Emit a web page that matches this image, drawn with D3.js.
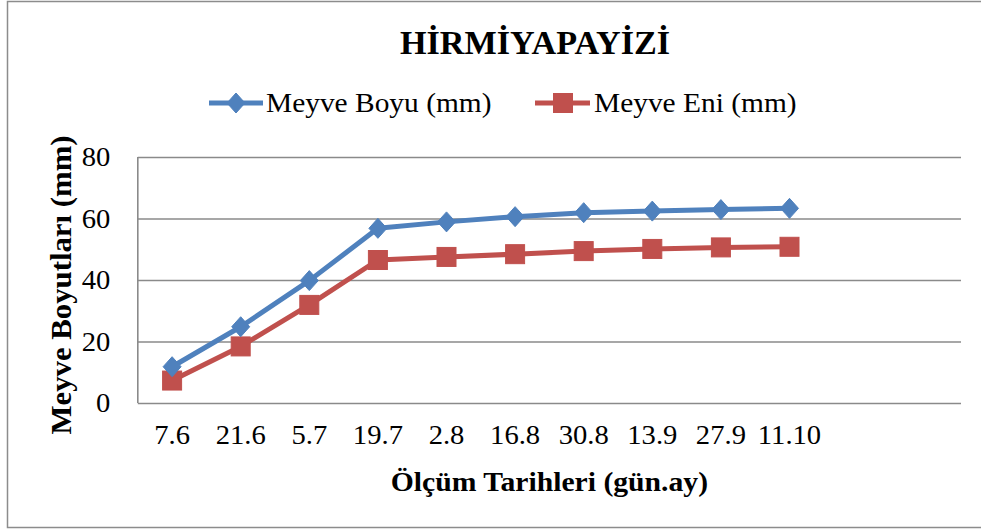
<!DOCTYPE html>
<html>
<head>
<meta charset="utf-8">
<script src="https://cdn.jsdelivr.net/npm/d3@7"></script>
<style>
  html, body { margin: 0; padding: 0; background: #fff; }
  svg { display: block; font-family: "Liberation Serif", "Times New Roman", serif; }
</style>
</head>
<body>
<svg id="chart" width="981" height="530"></svg>
<script>
// ---- data ----
const categories = ["7.6", "21.6", "5.7", "19.7", "2.8", "16.8", "30.8", "13.9", "27.9", "11.10"];
const boyuValues = [11.8, 24.8, 39.8, 56.8, 58.9, 60.6, 61.9, 62.4, 62.9, 63.3];
const eniValues  = [7.3, 18.4, 31.9, 46.5, 47.5, 48.4, 49.4, 50.1, 50.6, 50.8];
const yTicks = [0, 20, 40, 60, 80];
const seriesNames = ["Meyve Boyu (mm)", "Meyve Eni (mm)"];
const titleText = "HİRMİYAPAYİZİ";
const xTitle = "Ölçüm Tarihleri (gün.ay)";
const yTitle = "Meyve Boyutları (mm)";
const slotCount = 12; // category axis slots (last two empty)

const blue = "#4F81BD", red = "#C0504D", grid = "#8a8a8a";
const SX = 1.06; // horizontal text stretch

const svg = d3.select("#chart");

// outer chart border
svg.append("rect").attr("x", 7.5).attr("y", 1.5).attr("width", 1000).attr("height", 526)
  .attr("fill", "none").attr("stroke", "#8c8c8c").attr("stroke-width", 1.5);

const plot = { left: 137.8, right: 961, top: 157, bottom: 403 };

const x = d3.scaleBand().domain(d3.range(slotCount)).range([plot.left, plot.right]).padding(0);
const cx = i => x(i) + x.bandwidth() / 2;
const y = d3.scaleLinear().domain([0, 80]).range([plot.bottom, plot.top]);

// gridlines
const gridG = svg.append("g").attr("transform", `translate(${plot.left},0)`)
  .call(d3.axisLeft(y).tickValues(yTicks).tickSize(-(plot.right - plot.left)).tickFormat(""));
gridG.select(".domain").remove();
gridG.selectAll(".tick line").attr("stroke", grid).attr("stroke-width", 1.6);

// left axis line
svg.append("line").attr("x1", plot.left).attr("x2", plot.left).attr("y1", plot.top).attr("y2", plot.bottom)
  .attr("stroke", grid).attr("stroke-width", 1.6);

// y tick labels
const yAxisG = svg.append("g").attr("transform", `translate(${plot.left},0)`)
  .call(d3.axisLeft(y).tickValues(yTicks).tickSize(0).tickPadding(26));
yAxisG.select(".domain").remove();
yAxisG.selectAll("text").attr("font-size", 27).attr("fill", "#000")
  .attr("font-family", "Liberation Serif, serif")
  .attr("transform", `scale(${SX},1)`);

// x tick labels
const xAxisG = svg.append("g").attr("transform", `translate(0,${plot.bottom})`)
  .call(d3.axisBottom(x).tickValues(d3.range(categories.length)).tickSize(0).tickPadding(22)
    .tickFormat(i => categories[i]));
xAxisG.select(".domain").remove();
xAxisG.selectAll("text").attr("font-size", 27).attr("fill", "#000")
  .attr("font-family", "Liberation Serif, serif")
  .attr("transform", `scale(${SX},1)`);

// lines
const line = d3.line().x((d, i) => cx(i)).y(d => y(d));
svg.append("path").datum(boyuValues).attr("d", line).attr("fill", "none")
  .attr("stroke", blue).attr("stroke-width", 5).attr("stroke-linejoin", "round");
svg.append("path").datum(eniValues).attr("d", line).attr("fill", "none")
  .attr("stroke", red).attr("stroke-width", 5).attr("stroke-linejoin", "round");

function diamond(g, px, py) {
  g.append("path").attr("d", `M${px},${py - 10}L${px + 9},${py}L${px},${py + 10}L${px - 9},${py}Z`)
    .attr("fill", blue).attr("stroke", blue).attr("stroke-width", 1);
}
function square(g, px, py) {
  g.append("rect").attr("x", px - 9.5).attr("y", py - 9.5).attr("width", 19).attr("height", 19)
    .attr("fill", red).attr("stroke", red).attr("stroke-width", 1);
}

const mk = svg.append("g");
eniValues.forEach((v, i) => square(mk, cx(i), y(v)));
boyuValues.forEach((v, i) => diamond(mk, cx(i), y(v)));

function stretchedText(px, py, txt, size, opts = {}) {
  const t = svg.append("text")
    .attr("transform", `translate(${px},${py}) ${opts.rotate ? "rotate(-90)" : ""} scale(${opts.sx || SX},1)`)
    .attr("font-size", size).text(txt);
  if (opts.anchor) t.attr("text-anchor", opts.anchor);
  if (opts.bold) t.attr("font-weight", "bold");
  return t;
}

// title
stretchedText(535, 54, titleText, 33.5, { anchor: "middle", bold: true, sx: 1.02 });

// legend
const lg = svg.append("g");
lg.append("line").attr("x1", 209).attr("x2", 263).attr("y1", 103).attr("y2", 103)
  .attr("stroke", blue).attr("stroke-width", 5);
diamond(lg, 236, 103);
stretchedText(266, 112, seriesNames[0], 27.5, { sx: 1.07 });
lg.append("line").attr("x1", 535).attr("x2", 590).attr("y1", 103).attr("y2", 103)
  .attr("stroke", red).attr("stroke-width", 5);
square(lg, 563, 103);
stretchedText(594, 112, seriesNames[1], 27.5, { sx: 1.07 });

// axis titles
stretchedText((plot.left + plot.right) / 2, 491, xTitle, 28, { anchor: "middle", bold: true, sx: 1.06 });
stretchedText(71, 285, yTitle, 28.5, { anchor: "middle", bold: true, rotate: true, sx: 1.08 });
</script>
</body>
</html>
